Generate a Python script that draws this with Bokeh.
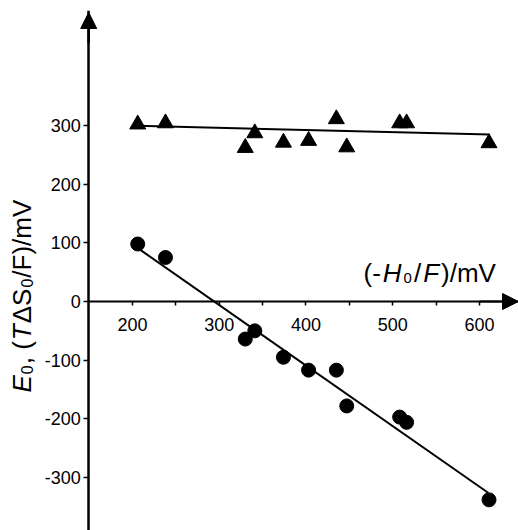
import math
from bokeh.plotting import figure
from bokeh.models import Range1d, FixedTicker, LinearAxis, Arrow, NormalHead, Label
from bokeh.embed import file_html
from bokeh.resources import INLINE

# ---- data ----
h0_mv = [206, 238, 330, 341, 374, 403, 435, 447, 508, 516, 611]          # (-H0/F)/mV
ts0_mv = [302, 304, 262, 287, 271, 274, 311, 263, 304, 304, 270]         # T dS0/F (triangles)
e0_mv = [98, 75, -64, -50, -95, -117, -117, -178, -197, -206, -338]      # E0 (circles)
fit_ts_x = [205, 612]
fit_ts_y = [299.5, 284.5]
fit_e0_x = [209, 610]
fit_e0_y = [88, -326]
x_ticks = [200, 300, 400, 500, 600]
x_minor_ticks = [250, 350, 450, 550]
y_ticks = [-300, -200, -100, 0, 100, 200, 300]
x_axis_at = 0
y_axis_at = 149.5

FONT = "Liberation Sans"
W, H = 518, 530
XL, X1 = 47.8, 645.0
Y0, Y1 = -390.3, 496.0
FRAME_TOP = 10

p = figure(width=W, height=H, x_range=Range1d(XL, X1), y_range=Range1d(Y0, Y1),
           output_backend="svg", toolbar_location=None,
           x_axis_location=None, y_axis_location="left",
           min_border_left=0, min_border_right=0, min_border_top=FRAME_TOP, min_border_bottom=0)
p.grid.visible = False
p.outline_line_color = None
p.background_fill_color = "white"
p.border_fill_color = "white"

ya = p.yaxis[0]
ya.fixed_location = y_axis_at
ya.bounds = (Y0, Y1)
ya.ticker = FixedTicker(ticks=y_ticks, minor_ticks=[])
ya.major_label_overrides = {t: str(t) for t in y_ticks}
ya.axis_line_width = 2.5
ya.axis_line_color = "black"
ya.major_tick_out = 5
ya.major_tick_in = 0
ya.major_tick_line_width = 1.5
ya.major_label_standoff = 3
ya.major_label_text_font = FONT
ya.major_label_text_font_size = "18px"
ya.major_label_text_color = "black"
ya.axis_label = " "
ya.axis_label_standoff = -400
ya.axis_label_text_font_size = "10px"

xa = LinearAxis(ticker=FixedTicker(ticks=x_ticks, minor_ticks=x_minor_ticks),
                fixed_location=x_axis_at, bounds=(y_axis_at, X1),
                axis_line_width=2, axis_line_color="black",
                major_tick_in=4, major_tick_out=0, major_tick_line_width=1.5,
                minor_tick_in=4, minor_tick_out=0, minor_tick_line_width=1.5,
                major_label_standoff=-29,
                major_label_text_font=FONT, major_label_text_font_size="18px",
                major_label_text_color="black")
p.add_layout(xa, "above")

# arrow heads on the axes
p.add_layout(Arrow(end=NormalHead(size=16, fill_color="black", line_color="black", line_width=1),
                   x_start=y_axis_at, y_start=440, x_end=y_axis_at, y_end=492.6,
                   line_color="black", line_width=2.5))
p.add_layout(Arrow(end=NormalHead(size=16, fill_color="black", line_color="black", line_width=1),
                   x_start=600, y_start=x_axis_at, x_end=X1, y_end=x_axis_at,
                   line_color="black", line_width=2))

# fits and points
p.line(fit_ts_x, fit_ts_y, line_color="black", line_width=2)
p.line(fit_e0_x, fit_e0_y, line_color="black", line_width=2)
p.scatter(h0_mv, ts0_mv, marker="triangle", size=16, color="black")
p.scatter(h0_mv, e0_mv, marker="circle", size=14, color="black")

# ---- composed axis labels (page px -> data) ----
def dx(px):
    return XL + px / W * (X1 - XL)

def dy(py):
    return Y1 - (py - FRAME_TOP) / (H - FRAME_TOP) * (Y1 - Y0)

ADV = {"(-": 0.666, "H": 0.722, "0": 0.556, "/": 0.278, "F": 0.611, ")/mV": 2.111,
       "E": 0.667, ", (": 0.889, "T": 0.611, "ΔS": 1.335, "/F)/mV": 3.0}

def add_pieces(pieces, start, base, vertical, gap):
    pos = start
    for txt, style, size, shift in pieces:
        if vertical:
            lab = Label(x=dx(base + shift), y=dy(pos), text=txt, angle=math.pi / 2,
                        text_font=FONT, text_font_style=style, text_font_size=f"{size}px",
                        text_align="left", text_baseline="alphabetic", text_color="black")
            pos -= ADV[txt] * size + gap
        else:
            lab = Label(x=dx(pos), y=dy(base + shift), text=txt,
                        text_font=FONT, text_font_style=style, text_font_size=f"{size}px",
                        text_align="left", text_baseline="alphabetic", text_color="black")
            pos += ADV[txt] * size + gap
        p.add_layout(lab)

add_pieces([("(-", "normal", 26, 0), ("H", "italic", 26, 0), ("0", "normal", 15, 5),
            ("/", "normal", 26, 0), ("F", "italic", 26, 0), (")/mV", "normal", 26, 0)],
           start=363, base=272, vertical=False, gap=2)

add_pieces([("E", "italic", 26, 0), ("0", "normal", 16, 5), (", (", "normal", 26, 0),
            ("T", "italic", 26, 0), ("ΔS", "normal", 26, 0), ("0", "normal", 16, 5),
            ("/F)/mV", "normal", 26, 0)],
           start=392, base=21, vertical=True, gap=1)

open("out.html", "w").write(file_html(p, INLINE))
